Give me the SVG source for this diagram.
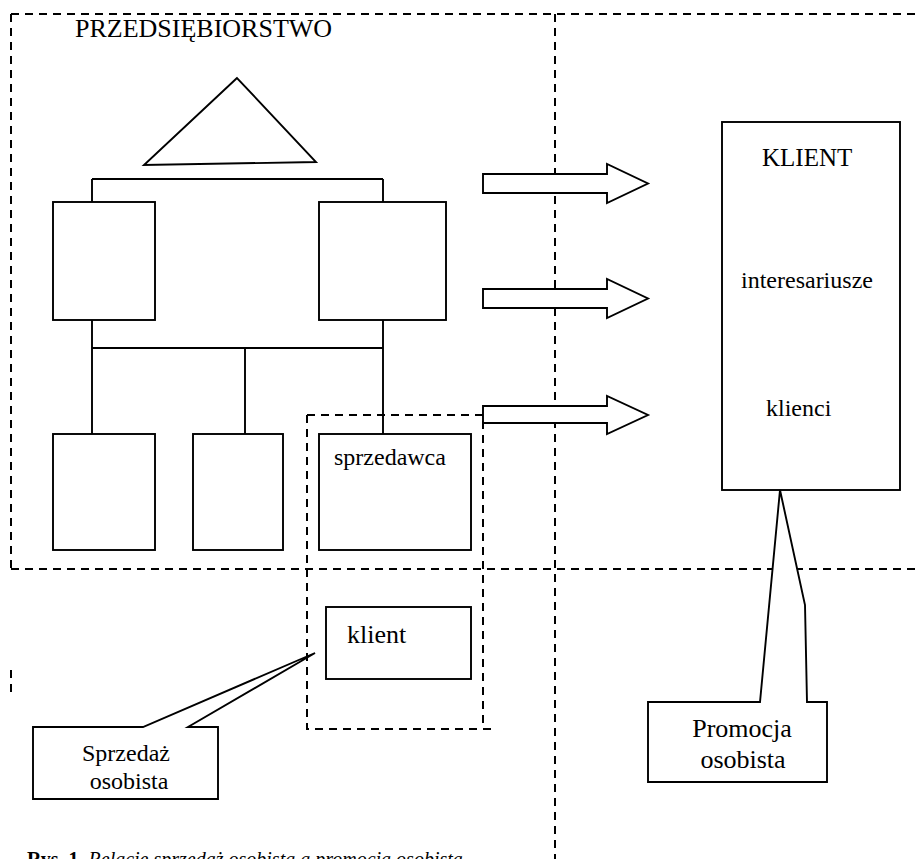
<svg xmlns="http://www.w3.org/2000/svg" width="921" height="859" viewBox="0 0 921 859">
<style>
.dash{fill:none;stroke:#000;stroke-width:2;stroke-dasharray:8 6}
.box{fill:#fff;stroke:#000;stroke-width:1.9}
.ln{fill:none;stroke:#000;stroke-width:1.9}
.t{font-family:"Liberation Serif","Times New Roman",serif;fill:#000}
</style>
<rect width="921" height="859" fill="#fff"/>
<g id="regions">
<path class="dash" d="M11,14 H921 M11,14 V569 M11,569 H921 M555,14 V859 M11,670 V692"/>
</g>
<g id="przedsiebiorstwo">
<text class="t" x="75" y="37" font-size="26">PRZEDSIĘBIORSTWO</text>
</g>
<g id="triangle"><polygon class="box" points="237,78 144,165 316,162"/></g>
<g id="connectors">
<path class="ln" d="M92,179 H383 M92,179 V202 M383,179 V202 M92,320 V434 M383,320 V434 M92,348 H383 M245,348 V434"/>
</g>
<g id="box-top-left"><rect class="box" x="53" y="202" width="102" height="118"/></g>
<g id="box-top-right"><rect class="box" x="319" y="202" width="127" height="118"/></g>
<g id="box-bottom-1"><rect class="box" x="53" y="434" width="102" height="116"/></g>
<g id="box-bottom-2"><rect class="box" x="193" y="434" width="90" height="116"/></g>
<g id="sprzedawca"><rect class="box" x="319" y="434" width="152" height="116"/>
<text class="t" x="334" y="465" font-size="24">sprzedawca</text></g>
<g id="sales-zone"><path class="dash" d="M307,415 H483 V729 M307,415 V729 H492"/></g>
<g id="klient-small"><rect class="box" x="326" y="607" width="145" height="72"/>
<text class="t" x="347" y="643" font-size="26">klient</text></g>
<g id="arrows">
<path class="box" d="M483,174 H607 V164 L648,183.5 L607,203 V193 H483 Z"/>
<path class="box" d="M483,289 H607 V279 L648,298.5 L607,318 V308 H483 Z"/>
<path class="box" d="M483,406 H607 V396 L648,415 L607,434 V423 H483 Z"/>
</g>
<g id="klient-big"><rect class="box" x="722" y="122" width="178" height="368"/>
<text class="t" x="762" y="166" font-size="25">KLIENT</text>
<text class="t" x="741" y="288" font-size="24">interesariusze</text>
<text class="t" x="766" y="416" font-size="24">klienci</text></g>
<g id="callout-sprzedaz">
<path class="box" d="M33,727 H143 L315,653 L188,727 H218 V799 H33 Z"/>
<text class="t" x="126" y="761" font-size="24" text-anchor="middle">Sprzedaż</text>
<text class="t" x="129" y="789" font-size="24" text-anchor="middle">osobista</text>
</g>
<g id="callout-promocja">
<path class="box" d="M648,702 H760 L780,490 L805,605 L807,702 H827 V782 H648 Z"/>
<text class="t" x="742" y="737" font-size="26" text-anchor="middle">Promocja</text>
<text class="t" x="743" y="768" font-size="26" text-anchor="middle">osobista</text>
</g>
<g id="caption">
<text class="t" x="27" y="866" font-size="20"><tspan font-weight="bold">Rys. 1.</tspan> <tspan font-style="italic">Relacje sprzedaż osobista a promocja osobista</tspan></text>
</g>
</svg>
